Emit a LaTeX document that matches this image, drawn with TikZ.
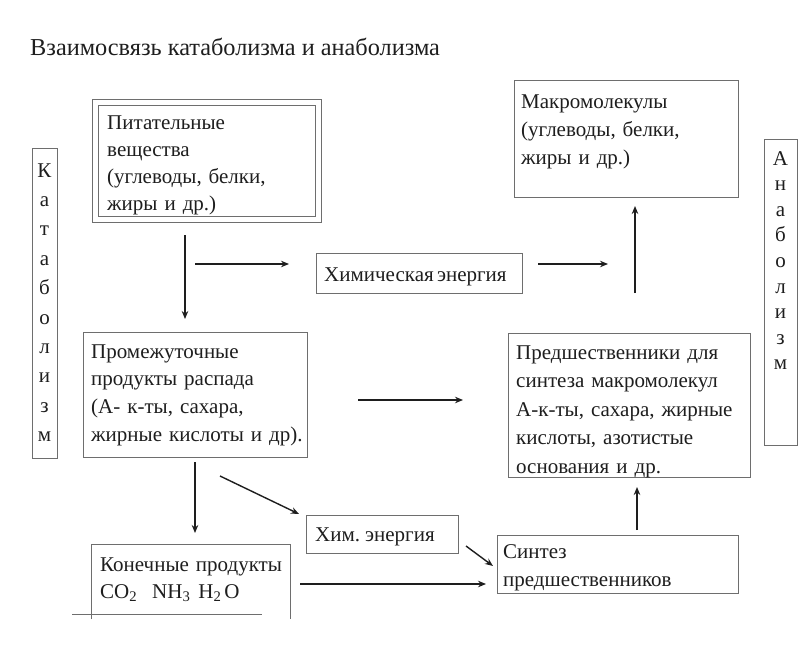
\documentclass[tikz,border=0pt]{standalone}
\usepackage{fontspec}
\setmainfont{Liberation Serif}
\usetikzlibrary{arrows.meta,calc}
\definecolor{bord}{HTML}{6E6E6E}
\definecolor{ink}{HTML}{1E1E1E}
\begin{document}
\begin{tikzpicture}[x=1pt,y=-1pt,
  box/.style={draw=bord,line width=1pt,inner sep=0pt,rectangle},
  txt/.style={inner sep=0pt,anchor=base west,align=left,text width=240pt,text=ink},
  arr/.style={draw=ink,line width=1.4pt,-{Stealth[length=8pt,width=6.5pt]}},
  vlet/.style={inner sep=0pt,anchor=base,align=center,text width=24pt,text=ink}]
\useasboundingbox[fill=white] (0,0) rectangle (800,661);

% title
\node[anchor=base west,inner sep=0pt,text=ink,font=\fontsize{24.3}{30}\selectfont] (title) at (30,56) {Взаимосвязь катаболизма и анаболизма};

% side boxes
\node[box,minimum width=25pt,minimum height=310pt] (kat) at (44.5,303) {};
\node[vlet,font=\fontsize{21}{29.4}\selectfont] (katT) at (44.5,177) {К\\а\\т\\а\\б\\о\\л\\и\\з\\м};
\node[box,minimum width=33pt,minimum height=306pt] (anab) at (780.5,292) {};
\node[vlet,font=\fontsize{21}{25.6}\selectfont] (anabT) at (780.5,165) {А\\н\\а\\б\\о\\л\\и\\з\\м};

% Питательные вещества (double frame)
\node[box,double=white,double distance=5pt,line width=1pt,minimum width=223pt,minimum height=117pt] (pit) at (207,160.5) {};
\node[txt,font=\fontsize{21}{27.3}\selectfont] (pitT) at (107,129) {Питательные\\вещества\\(углеводы, белки,\\жиры и др.)};

% Макромолекулы
\node[box,minimum width=224pt,minimum height=117pt] (mac) at (626,138.5) {};
\node[txt,font=\fontsize{21}{28}\selectfont] (macT) at (521,108) {Макромолекулы\\(углеводы, белки,\\жиры и др.)};

% Химическая энергия
\node[box,minimum width=206pt,minimum height=40pt] (chem) at (419,273) {};
\node[txt,text width=200pt] (chemT) at (324,281) {\fontsize{21}{25}\selectfont Химическая энергия};

% Промежуточные продукты
\node[box,minimum width=224pt,minimum height=125pt] (prom) at (195,394.5) {};
\node[txt,font=\fontsize{21}{27.7}\selectfont] (promT) at (91,358) {Промежуточные\\продукты распада\\(А- к-ты, сахара,\\жирные кислоты и др).};

% Предшественники
\node[box,minimum width=242pt,minimum height=144pt] (pred) at (629,405) {};
\node[txt,font=\fontsize{21}{28.5}\selectfont] (predT) at (516,359) {Предшественники для\\синтеза макромолекул\\А-к-ты, сахара, жирные\\кислоты, азотистые\\основания и др.};

% Хим. энергия
\node[box,minimum width=152pt,minimum height=38pt] (chem2) at (382,534) {};
\node[txt,text width=140pt] (chem2T) at (315,541) {\fontsize{21}{25}\selectfont Хим. энергия};

% Конечные продукты (open at bottom)
\node[inner sep=0pt,minimum width=198pt,minimum height=74pt] (kon) at (191,582) {};
\draw[bord,line width=1pt] (kon.south west) -- (kon.north west) -- (kon.north east) -- (kon.south east);
\node[txt,font=\fontsize{21}{27}\selectfont] (konT) at (100,571) {Конечные продукты\\CO\textsubscript{2}\hspace{15pt}NH\textsubscript{3}\hspace{8pt}H\textsubscript{2}\hspace{3pt}O};
\coordinate (lineL) at (72,614);
\coordinate (lineR) at (262,614);
\draw[bord,line width=1pt] (lineL) -- (lineR);

% Синтез предшественников
\node[box,minimum width=241pt,minimum height=58pt] (sin) at (617.5,564) {};
\node[txt,font=\fontsize{21}{28}\selectfont] (sinT) at (503,558) {Синтез\\предшественников};

% arrow end points
\coordinate (a1s) at (185,235); \coordinate (a1e) at (185,319);
\coordinate (a2s) at (195,264); \coordinate (a2e) at (289,264);
\coordinate (a3s) at (538,264); \coordinate (a3e) at (608,264);
\coordinate (a4s) at (635,293); \coordinate (a4e) at (635,206);
\coordinate (a5s) at (358,400); \coordinate (a5e) at (463,400);
\coordinate (a6s) at (195,462); \coordinate (a6e) at (195,533);
\coordinate (a7s) at (220,476); \coordinate (a7e) at (299,514);
\coordinate (a8s) at (466,546); \coordinate (a8e) at (493,566);
\coordinate (a9s) at (300,584); \coordinate (a9e) at (486,584);
\coordinate (a10s) at (637,530); \coordinate (a10e) at (637,487);

\draw[arr] (a1s) -- (a1e);
\draw[arr] (a2s) -- (a2e);
\draw[arr] (a3s) -- (a3e);
\draw[arr] (a4s) -- (a4e);
\draw[arr] (a5s) -- (a5e);
\draw[arr] (a6s) -- (a6e);
\draw[arr] (a7s) -- (a7e);
\draw[arr] (a8s) -- (a8e);
\draw[arr] (a9s) -- (a9e);
\draw[arr] (a10s) -- (a10e);
\end{tikzpicture}
\end{document}
